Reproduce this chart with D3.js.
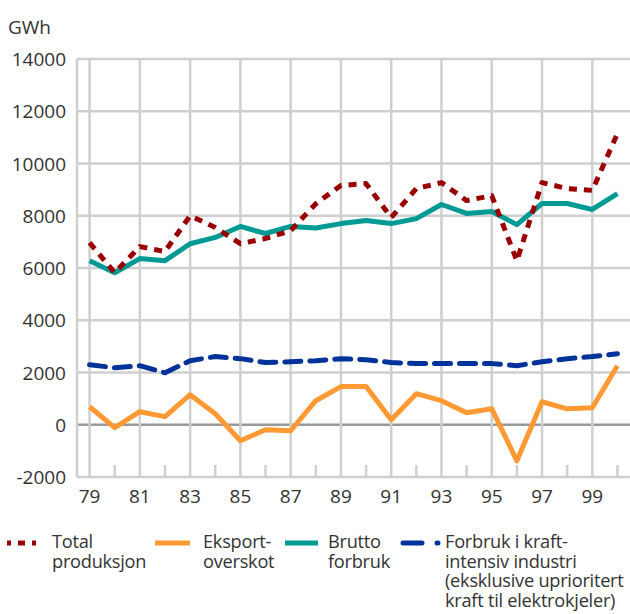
<!DOCTYPE html>
<html lang="en">
<head>
    <meta charset="UTF-8">
    <title>Kraft</title>
    <script src="https://d3js.org/d3.v7.min.js"></script>
    <style>
        body{ margin:0; background:#fff; }
        svg text{ font-family: "Open Sans", sans-serif; fill:#333; }
    </style>
</head>
<body>
<svg id="canvas" width="630" height="614"></svg>
<script>
    // data
    let years = [79,80,81,82,83,84,85,86,87,88,89,90,91,92,93,94,95,96,97,98,99,100];
    let totalProd = [6970,5820,6820,6630,8000,7550,6930,7130,7430,8460,9160,9230,7930,9040,9270,8580,8770,6280,9270,9040,8970,11150];
    let eksport = [690,-110,500,310,1150,420,-610,-190,-230,920,1460,1460,190,1190,920,460,610,-1380,880,610,650,2260];
    let brutto = [6280,5820,6360,6280,6930,7170,7590,7320,7590,7530,7700,7820,7700,7890,8430,8090,8160,7660,8470,8470,8240,8850];
    let kraftint = [2300,2180,2260,1990,2450,2610,2530,2380,2410,2450,2530,2490,2380,2340,2340,2340,2340,2260,2410,2530,2610,2720];
    let yTicks = [-2000,0,2000,4000,6000,8000,10000,12000,14000];
    let xLabelYears = [79,81,83,85,87,89,91,93,95,97,99];
    let xLabels = ["79","81","83","85","87","89","91","93","95","97","99"];

    let svg = d3.select('#canvas');
    let x = d3.scaleLinear().domain([78.5,100.5]).range([77,630]);
    let y = d3.scaleLinear().domain([-2000,14000]).range([477,59]);

    svg.append('text').attr('x',8).attr('y',34).attr('font-size',19).text('GWh');

    // grid
    let grid = svg.append('g');
    grid.selectAll('line.h').data(yTicks).enter().append('line')
        .attr('x1',77).attr('x2',630)
        .attr('y1',d=>y(d)).attr('y2',d=>y(d))
        .attr('stroke',d=> d===0 ? '#999' : '#cfcfcf').attr('stroke-width',2.5);
    grid.selectAll('line.v').data(xLabelYears).enter().append('line')
        .attr('x1',d=>x(d)).attr('x2',d=>x(d))
        .attr('y1',y(14000)).attr('y2',y(-2000))
        .attr('stroke','#cfcfcf').attr('stroke-width',2.5);
    grid.selectAll('line.m').data(years.filter(d=>d%2===0)).enter().append('line')
        .attr('x1',d=>x(d)).attr('x2',d=>x(d))
        .attr('y1',y(-2000)-12).attr('y2',y(-2000))
        .attr('stroke','#cfcfcf').attr('stroke-width',2.5);
    grid.append('line').attr('x1',77).attr('x2',77).attr('y1',y(14000)).attr('y2',y(-2000))
        .attr('stroke','#cfcfcf').attr('stroke-width',2.5);

    // axis labels
    svg.selectAll('text.yl').data(yTicks).enter().append('text')
        .attr('x',66).attr('y',d=>y(d)+7).attr('text-anchor','end').attr('font-size',19)
        .text(d=>d);
    svg.selectAll('text.xl').data(xLabelYears).enter().append('text')
        .attr('x',d=>x(d)).attr('y',503).attr('text-anchor','middle').attr('font-size',19)
        .text((d,i)=>xLabels[i]);

    let line = d3.line().x((d,i)=>x(years[i])).y(d=>y(d));
    let series = [
        {vals: eksport, color:'#ff9933', dash:null, cap:'butt'},
        {vals: brutto, color:'#009a94', dash:null, cap:'butt'},
        {vals: kraftint, color:'#003399', dash:'16,9', cap:'round'},
        {vals: totalProd, color:'#990000', dash:'8,7', cap:'butt'}
    ];
    series.forEach(s=>{
        svg.append('path').attr('d',line(s.vals)).attr('fill','none')
            .attr('stroke',s.color).attr('stroke-width',5)
            .attr('stroke-linecap',s.cap).attr('stroke-linejoin','round')
            .attr('stroke-dasharray',s.dash);
    });

    // legend
    let legend = [
        {x1:7, x2:43, tx:52, color:'#990000', dash:'4,7,7,7', cap:'butt', lines:['Total','produksjon']},
        {x1:155, x2:190, tx:203, color:'#ff9933', dash:null, cap:'butt', lines:['Eksport-','overskot']},
        {x1:285, x2:318, tx:328, color:'#009a94', dash:null, cap:'butt', lines:['Brutto','forbruk']},
        {x1:403, x2:438, tx:445, color:'#003399', dash:'19,15', cap:'round', lines:['Forbruk i kraft-','intensiv industri','(eksklusive uprioritert','kraft til elektrokjeler)']}
    ];
    legend.forEach(l=>{
        svg.append('line').attr('x1',l.x1).attr('x2',l.x2).attr('y1',543).attr('y2',543)
            .attr('stroke',l.color).attr('stroke-width',5).attr('stroke-linecap',l.cap)
            .attr('stroke-dasharray',l.dash);
        let t = svg.append('text').attr('x',l.tx).attr('y',548).attr('font-size',18.2)
            .attr('letter-spacing',-0.25);
        l.lines.forEach((s,i)=>{
            t.append('tspan').attr('x',l.tx).attr('dy',i===0?0:19.5).text(s);
        });
    });
</script>
</body>
</html>
